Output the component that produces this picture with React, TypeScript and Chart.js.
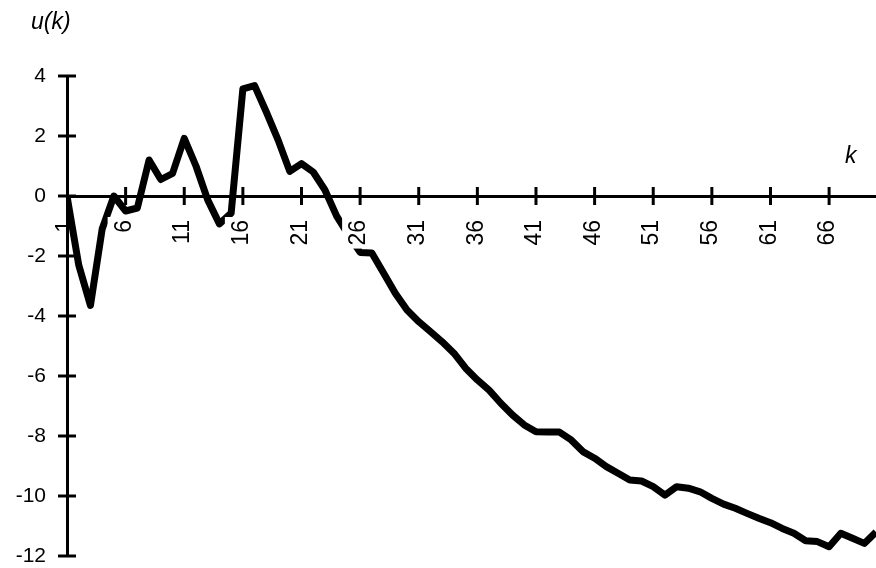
import React, { useEffect, useRef } from "react";
import { Chart, registerables } from "chart.js";

Chart.register(...registerables);

const kValues = [
  1, 2, 3, 4, 5, 6, 7, 8, 9, 10,
  11, 12, 13, 14, 15, 16, 17, 18, 19, 20,
  21, 22, 23, 24, 25, 26, 27, 28, 29, 30,
  31, 32, 33, 34, 35, 36, 37, 38, 39, 40,
  41, 42, 43, 44, 45, 46, 47, 48, 49, 50,
  51, 52, 53, 54, 55, 56, 57, 58, 59, 60,
  61, 62, 63, 64, 65, 66, 67, 68, 69, 70,
];

const uValues = [
  0, -2.3, -3.65, -1.1, 0, -0.5, -0.4, 1.2, 0.55, 0.75,
  1.92, 1.0, -0.13, -0.93, -0.57, 3.57, 3.68, 2.8, 1.87, 0.82,
  1.08, 0.8, 0.2, -0.67, -1.3, -1.88, -1.9, -2.57, -3.24, -3.8,
  -4.19, -4.52, -4.86, -5.24, -5.74, -6.13, -6.47, -6.91, -7.3, -7.63,
  -7.86, -7.87, -7.87, -8.13, -8.52, -8.74, -9.02, -9.24, -9.47, -9.5,
  -9.69, -9.97, -9.69, -9.74, -9.86, -10.08, -10.27, -10.41, -10.58, -10.74,
  -10.89, -11.08, -11.24, -11.49, -11.52, -11.69, -11.24, -11.41, -11.58, -11.2,
];

const xTickValues = [1, 6, 11, 16, 21, 26, 31, 36, 41, 46, 51, 56, 61, 66];
const yTickValues = [-12, -10, -8, -6, -4, -2, 0, 2, 4];

const yAxisTitle = "u(k)";
const xAxisTitle = "k";

const FONT = "'Liberation Sans', Arial, sans-serif";

const crossTicks = {
  id: "crossTicks",
  beforeDatasetsDraw(chart: any) {
    const { ctx, scales, chartArea } = chart;
    const xs = scales.x;
    const ys = scales.y;
    const y0 = ys.getPixelForValue(0);
    const x0 = chartArea.left;
    ctx.save();
    ctx.strokeStyle = "#000";
    ctx.lineWidth = 3;
    ctx.lineCap = "butt";
    xs.ticks.forEach((t: any, i: number) => {
      if (i === 0) return;
      const px = xs.getPixelForValue(t.value);
      ctx.beginPath();
      ctx.moveTo(px, y0 - 9);
      ctx.lineTo(px, y0 + 9);
      ctx.stroke();
    });
    ys.ticks.forEach((t: any) => {
      const py = ys.getPixelForValue(t.value);
      ctx.beginPath();
      ctx.moveTo(x0 - 9, py);
      ctx.lineTo(x0 + 9, py);
      ctx.stroke();
    });
    ctx.restore();
  },
};

const axisTitles = {
  id: "axisTitles",
  afterDraw(chart: any) {
    const { ctx } = chart;
    ctx.save();
    ctx.fillStyle = "#000";
    ctx.font = `italic 23px ${FONT}`;
    ctx.textBaseline = "middle";
    ctx.textAlign = "left";
    ctx.fillText(yAxisTitle, 31, 23);
    ctx.fillText(xAxisTitle, 845, 157);
    ctx.restore();
  },
};

export default function App() {
  const ref = useRef<HTMLCanvasElement | null>(null);

  useEffect(() => {
    if (!ref.current) return;
    const chart = new Chart(ref.current, {
      type: "line",
      data: {
        datasets: [
          {
            data: kValues.map((k, i) => ({ x: k, y: uValues[i] })),
            borderColor: "#000",
            borderWidth: 7,
            pointRadius: 0,
            tension: 0,
            fill: false,
            borderJoinStyle: "round",
          },
        ],
      },
      options: {
        animation: false,
        responsive: false,
        devicePixelRatio: 1,
        layout: { padding: { top: 76, bottom: 12, left: 0, right: 0 } },
        plugins: {
          legend: { display: false },
          tooltip: { enabled: false },
        },
        scales: {
          x: {
            type: "linear",
            min: 1,
            max: 70,
            position: { y: 0 },
            afterBuildTicks: (s: any) => {
              s.ticks = xTickValues.map((v) => ({ value: v }));
            },
            afterFit: (s: any) => {
              s.height = 0;
              s.paddingLeft = 0;
              s.paddingRight = 0;
            },
            grid: { display: true, drawOnChartArea: false, drawTicks: false },
            border: { display: true, color: "#000", width: 3 },
            ticks: {
              autoSkip: false,
              maxRotation: 90,
              minRotation: 90,
              padding: 24,
              labelOffset: -15,
              color: "#000",
              font: { family: FONT, size: 23 },
              callback: (v: any) => String(v),
              showLabelBackdrop: true,
              backdropColor: (c: any) => (c.index > 0 ? "#fff" : "rgba(255,255,255,0)"),
              backdropPadding: 3,
              z: 1,
            },
          },
          y: {
            type: "linear",
            min: -12,
            max: 4,
            afterBuildTicks: (s: any) => {
              s.ticks = yTickValues.map((v) => ({ value: v }));
            },
            afterFit: (s: any) => {
              s.width = 67;
              s.paddingTop = 0;
              s.paddingBottom = 0;
            },
            grid: { display: true, drawOnChartArea: false, drawTicks: false },
            border: { display: true, color: "#000", width: 3 },
            ticks: {
              padding: 21,
              color: "#000",
              font: { family: FONT, size: 21 },
              callback: (v: any) => String(v),
            },
          },
        },
      },
      plugins: [crossTicks, axisTitles],
    } as any);
    return () => chart.destroy();
  }, []);

  return (
    <div style={{ position: "absolute", left: 0, top: 0, width: 876, height: 568, background: "#fff" }}>
      <canvas ref={ref} width={876} height={568} style={{ width: 876, height: 568, display: "block" }} />
    </div>
  );
}
